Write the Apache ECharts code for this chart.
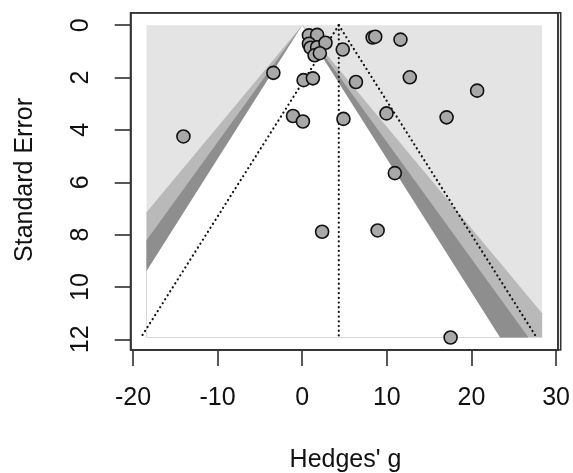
<!DOCTYPE html>
<html>
<head>
<meta charset="utf-8">
<script src="https://cdn.jsdelivr.net/npm/echarts@6/dist/echarts.min.js"></script>
<style>
html,body{margin:0;padding:0;background:#fff;}
#chart{width:573px;height:473px;}
</style>
</head>
<body>
<div id="chart"></div>
<script>
// ---- data ----
const hedgesG = [0.79, 1.76, 0.79, 0.99, 1.76, 2.75, 1.46, 2.08, 4.79, 8.32, 8.63, 11.61, -3.41, 0.16, 1.26, 6.35, 12.71, 20.67, -1.09, 0.08, 4.87, 9.96, 17.06, -14.04, 10.94, 2.35, 8.91, 17.53];
const stdError = [0.39, 0.37, 0.71, 0.86, 0.84, 0.67, 1.15, 1.07, 0.93, 0.47, 0.44, 0.55, 1.82, 2.10, 2.03, 2.17, 1.99, 2.50, 3.47, 3.68, 3.58, 3.37, 3.52, 4.25, 5.65, 7.89, 7.84, 11.93];
const xTicks = [-20, -10, 0, 10, 20, 30];
const yTicks = [0, 2, 4, 6, 8, 10, 12];
const xLimits = [-18.4, 28.35];
const pooledEstimate = 4.32;
const contourZ = [2.576, 2.241, 1.960];         // 0.99, 0.975, 0.95 levels
const contourColors = ['#b9b9b9', '#8e8e8e', '#ffffff'];
const backColor = '#e4e4e4';
const ciZ = 1.96;

const seMax = Math.max(...stdError);
const xPad = (xLimits[1] - xLimits[0]) * 0.04;
const yPad = seMax * 0.04;
const xRange = [xLimits[0] - xPad, xLimits[1] + xPad];
const yRange = [-yPad, seMax + yPad];

// layout of the plotting region
const gridBox = { left: 130.7, top: 12.7, width: 430, height: 337.3 };

function contourPolygon(z) {
  const pts = [[0, 0]];
  if (z * seMax > xLimits[1]) { pts.push([xLimits[1], xLimits[1] / z]); pts.push([xLimits[1], seMax]); }
  else pts.push([z * seMax, seMax]);
  if (-z * seMax < xLimits[0]) { pts.push([xLimits[0], seMax]); pts.push([xLimits[0], -xLimits[0] / z]); }
  else pts.push([-z * seMax, seMax]);
  return pts;
}
const polygons = [
  { pts: [[xLimits[0], 0], [xLimits[1], 0], [xLimits[1], seMax], [xLimits[0], seMax]], color: backColor }
].concat(contourZ.map((z, i) => ({ pts: contourPolygon(z), color: contourColors[i] })));

const polySeries = polygons.map(p => ({
  type: 'custom', silent: true, z: 1, data: [0],
  renderItem: function (params, api) {
    return { type: 'polygon', shape: { points: p.pts.map(v => api.coord(v)) }, style: { fill: p.color, stroke: null } };
  }
}));

// frame edges along the full axis extent
const frameEdges = [
  [[xRange[0], yRange[0]], [xRange[1], yRange[0]]],
  [[xRange[1], yRange[0]], [xRange[1], yRange[1]]],
  [[xRange[1], yRange[1]], [xRange[0], yRange[1]]],
  [[xRange[0], yRange[1]], [xRange[0], yRange[0]]]
];
const frameSeries = {
  type: 'custom', silent: true, z: 20, clip: false,
  data: frameEdges.map((e, i) => i),
  renderItem: function (params, api) {
    const e = frameEdges[params.dataIndex];
    const a = api.coord(e[0]);
    const b = api.coord(e[1]);
    return { type: 'line', shape: { x1: a[0], y1: a[1], x2: b[0], y2: b[1] }, style: { stroke: '#333', lineWidth: 1.6 } };
  }
};

const dotStyle = { color: '#111', width: 2.2, type: [0.1, 4.6], cap: 'round' };
const lineSeries = [
  [[pooledEstimate, 0], [pooledEstimate, seMax]],
  [[pooledEstimate, 0], [pooledEstimate - ciZ * seMax, seMax]],
  [[pooledEstimate, 0], [pooledEstimate + ciZ * seMax, seMax]]
].map(d => ({ type: 'line', data: d, symbol: 'none', silent: true, z: 2, lineStyle: dotStyle, animation: false }));

const chart = echarts.init(document.getElementById('chart'), null, { renderer: 'canvas' });
const font = '"Liberation Sans", Arial, sans-serif';
chart.setOption({
  animation: false,
  backgroundColor: '#ffffff',
  grid: Object.assign({ show: true, borderColor: '#333', borderWidth: 1.6, backgroundColor: 'transparent', z: 10 }, gridBox),
  xAxis: {
    type: 'value', position: 'bottom',
    min: xRange[0], max: xRange[1],
    splitLine: { show: false },
    axisLine: { show: false, onZero: false },
    axisTick: { show: true, customValues: xTicks, length: 16, inside: false, lineStyle: { color: '#222', width: 1.5 } },
    axisLabel: { customValues: xTicks, margin: 36, fontSize: 25, color: '#111', fontFamily: font }
  },
  yAxis: {
    type: 'value', inverse: true, position: 'left',
    min: yRange[0], max: yRange[1],
    splitLine: { show: false },
    axisLine: { show: false, onZero: false },
    axisTick: { show: true, customValues: yTicks, length: 16, inside: false, lineStyle: { color: '#222', width: 1.5 } },
    axisLabel: { customValues: yTicks, rotate: 90, margin: 37, fontSize: 25, color: '#111', fontFamily: font }
  },
  graphic: [
    { type: 'rect', z: 100, silent: true,
      shape: { x: gridBox.left, y: gridBox.top, width: gridBox.width, height: gridBox.height },
      style: { fill: 'transparent', stroke: '#333', lineWidth: 1.6 } },
    { type: 'text', style: { text: "Hedges' g", fontSize: 25, fill: '#111', fontFamily: font, x: 345.5, y: 460, align: 'center', verticalAlign: 'middle' } },
    { type: 'text', rotation: Math.PI / 2, x: 25, y: 180, style: { text: 'Standard Error', fontSize: 25, fill: '#111', fontFamily: font, align: 'center', verticalAlign: 'middle' } }
  ],
  series: polySeries.concat(lineSeries).concat([{
    type: 'scatter', z: 5,
    data: hedgesG.map((g, i) => [g, stdError[i]]),
    symbol: 'circle', symbolSize: 13,
    itemStyle: { color: '#a8a8a8', borderColor: '#111', borderWidth: 1.6, opacity: 1 }
  }, frameSeries])
});
</script>
</body>
</html>
